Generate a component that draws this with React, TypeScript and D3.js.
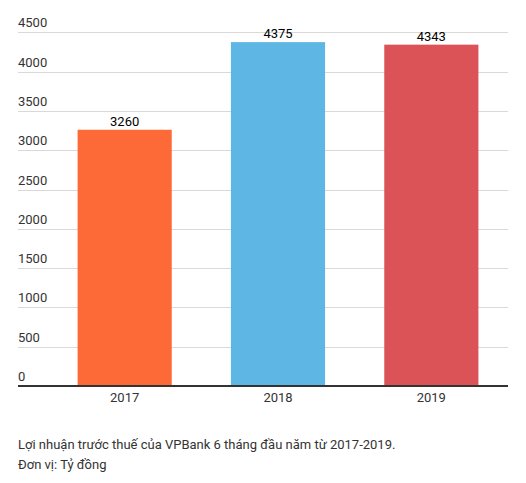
import React from "react";
import * as d3 from "d3";

const years = ["2017", "2018", "2019"];
const profits = [3260, 4375, 4343];
const barColors = ["#fe6a37", "#5eb6e4", "#db5357"];
const yTicks = [0, 500, 1000, 1500, 2000, 2500, 3000, 3500, 4000, 4500];
const captionLines = [
	"Lợi nhuận trước thuế của VPBank 6 tháng đầu năm từ 2017-2019.",
	"Đơn vị: Tỷ đồng",
];

const App: React.FC = () => {
	const width = 526;
	const height = 483;
	const gridLeft = 18;
	const gridRight = 508;

	const xScale = d3
		.scaleBand()
		.domain(years)
		.range([48, 508])
		.paddingInner(0.386)
		.paddingOuter(0.193);

	const yScale = d3.scaleLinear().domain([0, 4500]).range([386, 32.3]);

	return (
		<svg
			width={width}
			height={height}
			style={{ position: "absolute", left: 0, top: 0, fontFamily: "Roboto, sans-serif" }}
		>
			{/* grid lines + labels */}
			{yTicks.map((t) => (
				<g key={t}>
					{t > 0 && (
						<line
							x1={gridLeft}
							x2={gridRight}
							y1={Math.round(yScale(t)) + 0.5}
							y2={Math.round(yScale(t)) + 0.5}
							stroke="#d9d9d9"
							strokeWidth={1}
						/>
					)}
					<text x={gridLeft} y={yScale(t) - 5} fontSize={13} fill="#333">
						{t}
					</text>
				</g>
			))}

			{/* bars */}
			{years.map((y, i) => (
				<g key={y}>
					<rect
						x={xScale(y)}
						y={yScale(profits[i])}
						width={xScale.bandwidth()}
						height={yScale(0) - yScale(profits[i])}
						fill={barColors[i]}
					/>
					<text
						x={(xScale(y) || 0) + xScale.bandwidth() / 2}
						y={yScale(profits[i]) - 4}
						textAnchor="middle"
						fontSize={13}
						fill="#000"
					>
						{profits[i]}
					</text>
					<text
						x={(xScale(y) || 0) + xScale.bandwidth() / 2}
						y={402}
						textAnchor="middle"
						fontSize={13}
						fill="#333"
					>
						{y}
					</text>
				</g>
			))}

			{/* baseline */}
			<line x1={gridLeft} x2={gridRight} y1={yScale(0)} y2={yScale(0)} stroke="#333" strokeWidth={2} />

			{/* caption */}
			{captionLines.map((line, i) => (
				<text key={i} x={gridLeft} y={449 + i * 20} fontSize={13} fill="#333">
					{line}
				</text>
			))}
		</svg>
	);
};

export default App;
